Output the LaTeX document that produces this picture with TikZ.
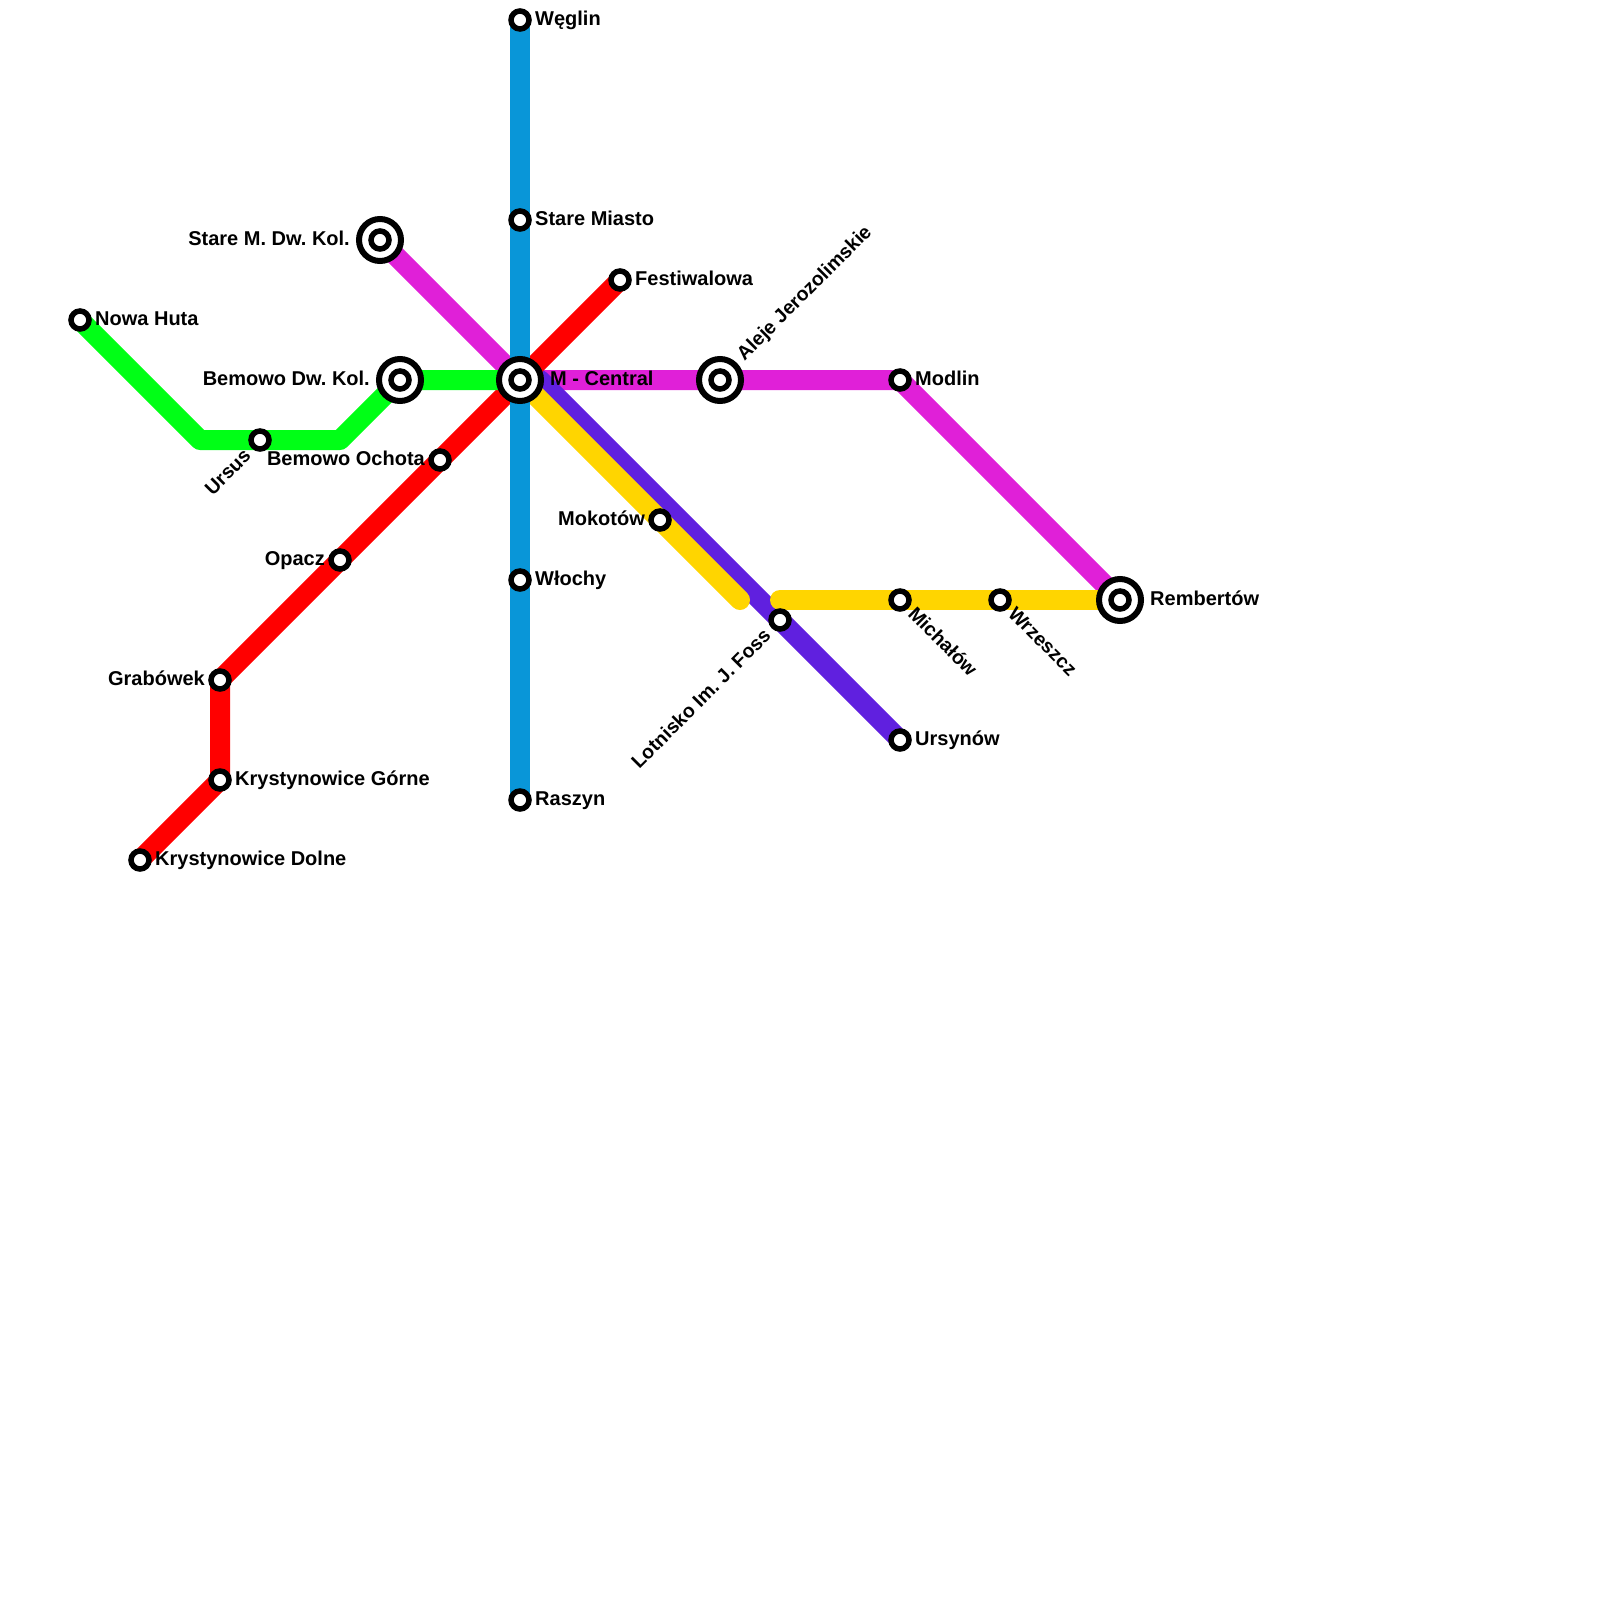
\documentclass[tikz,border=0pt]{standalone}
\usepackage{fontspec}
\setmainfont{Liberation Sans}
\frenchspacing
\definecolor{lineblue}{HTML}{0996D8}
\definecolor{linegreen}{HTML}{00FF16}
\definecolor{linered}{HTML}{FF0000}
\definecolor{linepink}{HTML}{E020D8}
\definecolor{linepurple}{HTML}{6020DF}
\definecolor{lineyellow}{HTML}{FFD500}
\tikzset{
	metro/.style={line width=20pt,line cap=round,line join=round},
	stop/.style={circle,draw=black,fill=white,line width=5.5pt,minimum size=18pt,inner sep=0pt},
	hub/.style={circle,draw=black,fill=white,line width=6pt,minimum size=42pt,inner sep=0pt},
	lbl/.style={inner sep=0pt,font=\fontsize{20}{24}\selectfont\bfseries},
	rotlbl/.style={inner sep=0pt,font=\fontsize{19.5}{24}\selectfont\bfseries}
}
\begin{document}
\begin{tikzpicture}[x=20pt,y=-20pt]
	\useasboundingbox (0,0) rectangle (80,80);
	\foreach \name/\x/\y in {weglin/26/1,staremiasto/26/11,central/26/19,wlochy/26/29,raszyn/26/40,
		festiwalowa/31/14,ochota/22/23,opacz/17/28,grabowek/11/34,krysgorne/11/39,krysdolne/7/43,
		nowahuta/4/16,ursus/13/22,bemowodw/20/19,staredw/19/12,aleje/36/19,modlin/45/19,rembertow/56/30,
		mokotow/33/26,michalow/45/30,wrzeszcz/50/30,lotnisko/39/31,ursynow/45/37}
	\coordinate (\name) at (\x,\y);
	\coordinate (greenA) at (10,22);
	\coordinate (greenB) at (17,22);
	\coordinate (purpleA) at (27,19);
	\coordinate (yellowA) at (37,30);
	\coordinate (yellowB) at (39,30);
	% lines
	\draw[metro,linepink] (staredw)--(central)--(modlin)--(rembertow);
	\draw[metro,linepurple] (purpleA)--(ursynow);
	\draw[metro,linered] (festiwalowa)--(grabowek)--(krysgorne)--(krysdolne);
	\draw[metro,linegreen] (nowahuta)--(greenA)--(greenB)--(bemowodw)--(central);
	\draw[metro,lineyellow] (central)--(yellowA);
	\draw[metro,lineyellow] (yellowB)--(rembertow);
	\draw[metro,lineblue,line cap=butt] (weglin)--(raszyn);
	% stations
	\foreach \name in {central,bemowodw,staredw,aleje,rembertow}
	\node[hub] (hub-\name) at (\name) {};
	\foreach \name in {weglin,staremiasto,central,wlochy,raszyn,festiwalowa,ochota,opacz,grabowek,krysgorne,krysdolne,
		nowahuta,ursus,bemowodw,staredw,aleje,modlin,rembertow,mokotow,michalow,wrzeszcz,lotnisko,ursynow}
	\node[stop] (stop-\name) at (\name) {};
	% labels
	\foreach \name/\dx/\txt in {weglin/15/Węglin,staremiasto/15/Stare Miasto,wlochy/15/Włochy,raszyn/15/Raszyn,
		festiwalowa/15/Festiwalowa,krysgorne/15/Krystynowice Górne,krysdolne/15/Krystynowice Dolne,nowahuta/15/Nowa Huta,
		modlin/15/Modlin,ursynow/15/Ursynów,central/30/M - Central,rembertow/30/Rembertów}
	\node[lbl,anchor=base west] (lbl-\name) at ([xshift=\dx pt,yshift=-5.5pt]\name) {\txt};
	\foreach \name/\dx/\txt in {ochota/15/Bemowo Ochota,opacz/15/Opacz,grabowek/15/Grabówek,mokotow/15/Mokotów,
		bemowodw/30/Bemowo Dw. Kol.,staredw/30/Stare M. Dw. Kol.}
	\node[lbl,anchor=base east] (lbl-\name) at ([xshift=-\dx pt,yshift=-5.5pt]\name) {\txt};
	\node[rotlbl,anchor=base west,rotate=45] (lbl-aleje) at ([xshift=24.5pt,yshift=18.5pt]aleje) {Aleje Jerozolimskie};
	\node[rotlbl,anchor=base west,rotate=-45] (lbl-michalow) at ([xshift=7pt,yshift=-15pt]michalow) {Michałów};
	\node[rotlbl,anchor=base west,rotate=-45] (lbl-wrzeszcz) at ([xshift=7pt,yshift=-15pt]wrzeszcz) {Wrzeszcz};
	\node[rotlbl,anchor=base east,rotate=45] (lbl-ursus) at ([xshift=-8pt,yshift=-17pt]ursus) {Ursus};
	\node[rotlbl,anchor=base east,rotate=45] (lbl-lotnisko) at ([xshift=-8pt,yshift=-17pt]lotnisko) {Lotnisko Im. J. Foss};
\end{tikzpicture}
\end{document}
